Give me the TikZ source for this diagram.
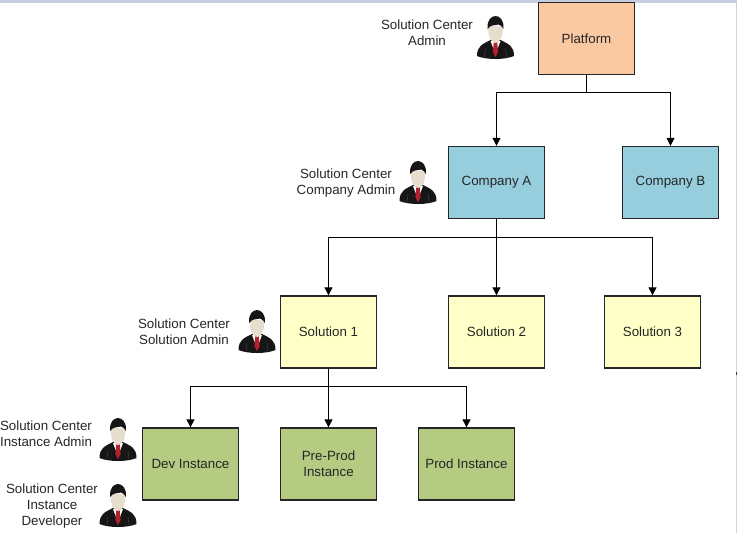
\documentclass[tikz,border=0pt]{standalone}
\usepackage{fontspec}
\setmainfont{Liberation Sans}
\usepackage{tikz}
\usetikzlibrary{arrows.meta,positioning,calc}
\definecolor{scInk}{HTML}{262626}
\definecolor{scFrame}{HTML}{C5CEDF}
\definecolor{scEdge}{HTML}{D4D4D8}
\definecolor{scOrange}{HTML}{FBC9A1}
\definecolor{scBlue}{HTML}{96CEDE}
\definecolor{scYellow}{HTML}{FFFFC8}
\definecolor{scGreen}{HTML}{B5CB82}
\definecolor{scSkin}{HTML}{E6DDCF}
\definecolor{scSuit}{HTML}{161616}
\definecolor{scCloth}{HTML}{3A3A3A}
\definecolor{scTie}{HTML}{B5202F}
\tikzset{
  % Boxes of the hierarchy
  hbox/.style={rectangle,draw=scInk,line width=1pt,
    minimum width=72pt,minimum height=54pt,
    align=center,font=\fontsize{10}{12}\selectfont,text=scInk},
  platbox/.style={hbox,fill=scOrange},
  compbox/.style={hbox,fill=scBlue},
  solbox/.style={hbox,fill=scYellow},
  instbox/.style={hbox,fill=scGreen},
  % Role captions
  rolelbl/.style={align=center,text=scInk,
    font=\fontsize{10}{12}\selectfont},
  % Arrows
  arr/.style={-{Triangle[length=6pt,width=6pt]},line width=0.75pt,color=black},
  stem/.style={line width=0.75pt,color=black},
  % Little man in a suit
  admin/.pic={
    \fill[scSuit] (-18.5,19) .. controls (-18.5,9) and (-13,7) .. (-5,3)
      -- (5,3) .. controls (13,7) and (18.5,9) .. (18.5,19)
      .. controls (9,23) and (-9,23) .. (-18.5,19) -- cycle;
    \draw[scCloth,line width=0.5pt] (-11,20) -- (-10,12);
    \draw[scCloth,line width=0.5pt] (11,20) -- (10,12);
    \fill[white] (-5,4) -- (5,4) -- (0,17) -- cycle;
    \fill[scTie] (-1.7,5) -- (1.7,5) -- (2.6,15) -- (0,20) -- (-2.6,15) -- cycle;
    \fill[scSkin] (-7,-11) .. controls (-8,1) and (-3.5,6) .. (0,6)
      .. controls (3.5,6) and (8,1) .. (7,-11) -- cycle;
    \fill[scSuit] (-7.8,-8) .. controls (-9,-17) and (-4,-21) .. (0,-21)
      .. controls (4,-21) and (9,-17) .. (7.8,-8)
      .. controls (7,-10) and (5.5,-12) .. (3,-12.5)
      .. controls (0,-11.5) and (-5.5,-12.5) .. (-7.8,-8) -- cycle;
  },
}
\begin{document}
\begin{tikzpicture}[x=0.75pt,y=-0.75pt]
  \useasboundingbox (0,0) rectangle (737,533);
  % Window edge
  \fill[scFrame] (0,0) rectangle (737,2.5);
  \fill[scEdge] (736,2.5) rectangle (737,533);
  \fill[scCloth] (736,372) rectangle (737,375);

  % Platform
  \node[platbox] (platform) at (586.5,38.5) {Platform};
  \node[compbox] (companyA) at (496.5,182.5) {Company A};
  \node[compbox] (companyB) at (670.5,182.5) {Company B};

  % Solutions
  \node[solbox] (solutionA) at (328.5,332) {Solution 1};
  \node[solbox] (solutionB) at (496.5,332) {Solution 2};
  \node[solbox] (solutionC) at (652.5,332) {Solution 3};

  % Instances
  \node[instbox] (devInst) at (190.5,464) {Dev Instance};
  \node[instbox] (preInst) at (328.5,464) {Pre-Prod\\Instance};
  \node[instbox] (prodInst) at (466.5,464) {Prod Instance};

  % Bus lines
  \coordinate (busPlat) at ($(platform.south)+(0,17.5)$);
  \coordinate (busComp) at ($(companyA.south)+(0,18)$);
  \coordinate (busSol) at ($(solutionA.south)+(0,18)$);

  \draw[stem] (platform.south) -- (busPlat);
  \draw[arr] (busPlat) -| (companyA.north);
  \draw[arr] (busPlat) -| (companyB.north);

  \draw[stem] (companyA.south) -- (busComp);
  \draw[arr] (busComp) -| (solutionA.north);
  \draw[arr] (busComp) -- (solutionB.north);
  \draw[arr] (busComp) -| (solutionC.north);

  \draw[stem] (solutionA.south) -- (busSol);
  \draw[arr] (busSol) -| (devInst.north);
  \draw[arr] (busSol) -- (preInst.north);
  \draw[arr] (busSol) -| (prodInst.north);

  % Roles
  \pic at (495.5,37) {admin};
  \node[rolelbl] (roleCenter) at (427,33) {Solution Center\\Admin};
  \pic at (418,182) {admin};
  \node[rolelbl] (roleCompany) at (346,183) {Solution Center\\Company Admin};
  \pic at (257,331) {admin};
  \node[rolelbl] (roleSolution) at (184,332) {Solution Center\\Solution Admin};
  \pic at (118,439) {admin};
  \node[rolelbl] (roleInstance) at (46,434) {Solution Center\\Instance Admin};
  \pic at (118,505) {admin};
  \node[rolelbl] (roleDeveloper) at (52,506) {Solution Center\\Instance\\Developer};
\end{tikzpicture}
\end{document}
